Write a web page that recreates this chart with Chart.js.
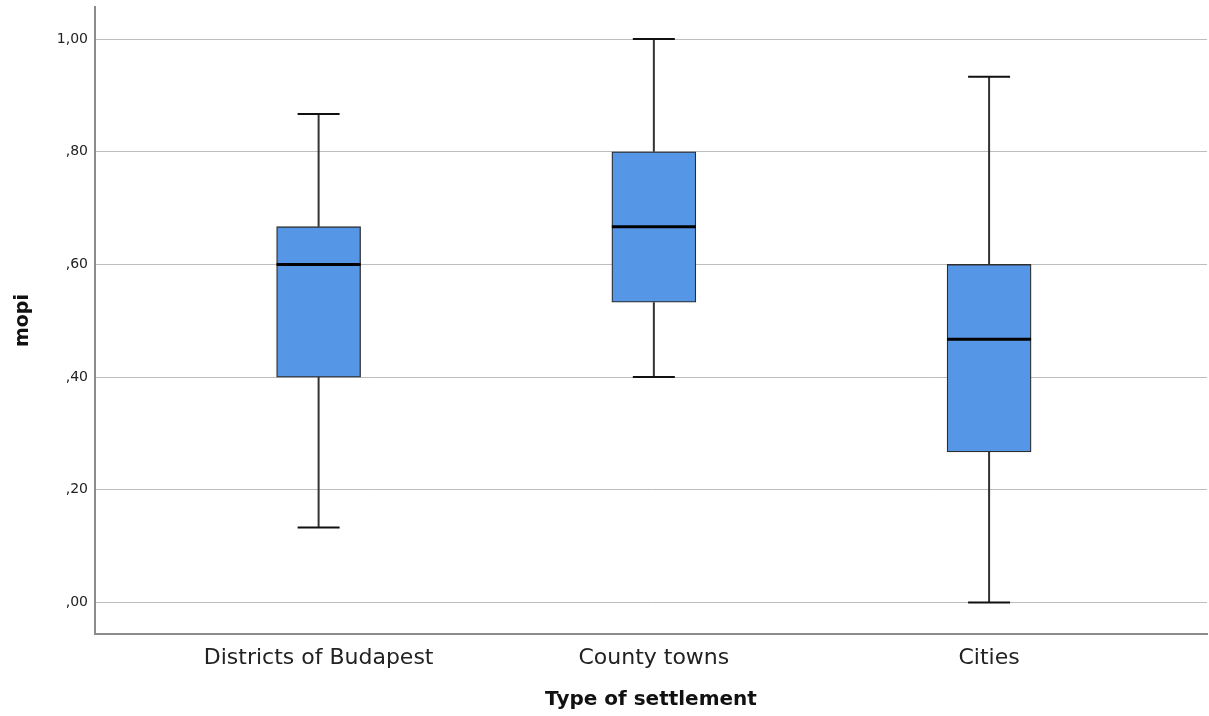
<!DOCTYPE html>
<html>
<head>
<meta charset="utf-8">
<script src="https://cdn.jsdelivr.net/npm/chart.js@4"></script>
<style>
    body { margin: 0; background: white; }
    #wrap { width: 1209px; height: 716px; }
</style>
</head>
<body>
<div id="wrap"><canvas id="boxChart"></canvas></div>
<script>
//data
const categories = ['Districts of Budapest', 'County towns', 'Cities'];
const positions = [1, 2, 3];
const mins    = [0.133, 0.40, 0.00];
const q1s     = [0.40, 0.533, 0.267];
const medians = [0.60, 0.667, 0.467];
const q3s     = [0.667, 0.80, 0.60];
const maxs    = [0.867, 1.00, 0.933];
const yTicks  = [0, 0.2, 0.4, 0.6, 0.8, 1.0];

const boxData = positions.map((p, i) => ({ x: p, y: [q1s[i], q3s[i]] }));

//comma decimal like SPSS: ,20  1,00
function spssLabel(v) {
    let s = v.toFixed(2).replace('.', ',');
    if (s.startsWith('0')) s = s.substring(1);
    return s;
}

/*
    whiskers + medians plugin
*/
const whiskerPlugin = {
    id: 'whiskers',
    beforeDatasetsDraw(chart) {
        const ctx = chart.ctx, x = chart.scales.x, y = chart.scales.y;
        ctx.save();
        ctx.strokeStyle = '#333333';
        ctx.lineWidth = 2;
        for (let i = 0; i < positions.length; i++) {
            const cx = x.getPixelForValue(positions[i]);
            ctx.beginPath();
            ctx.moveTo(cx, y.getPixelForValue(q3s[i]));
            ctx.lineTo(cx, y.getPixelForValue(maxs[i]));
            ctx.moveTo(cx, y.getPixelForValue(q1s[i]));
            ctx.lineTo(cx, y.getPixelForValue(mins[i]));
            ctx.stroke();
        }
        ctx.restore();
    },
    afterDatasetsDraw(chart) {
        const ctx = chart.ctx, x = chart.scales.x, y = chart.scales.y;
        const meta = chart.getDatasetMeta(0);
        ctx.save();
        for (let i = 0; i < positions.length; i++) {
            const cx = x.getPixelForValue(positions[i]);
            const half = meta.data[i].width / 2;
            //caps
            ctx.strokeStyle = '#111111';
            ctx.lineWidth = 2;
            ctx.beginPath();
            for (let v of [mins[i], maxs[i]]) {
                const py = y.getPixelForValue(v);
                ctx.moveTo(cx - half / 2, py);
                ctx.lineTo(cx + half / 2, py);
            }
            ctx.stroke();
            //median
            ctx.strokeStyle = '#000000';
            ctx.lineWidth = 3;
            ctx.beginPath();
            const my = y.getPixelForValue(medians[i]);
            ctx.moveTo(cx - half, my);
            ctx.lineTo(cx + half, my);
            ctx.stroke();
        }
        ctx.restore();
    }
};

const ctx_box = document.getElementById('boxChart').getContext('2d');
const boxChart = new Chart(ctx_box, {
    type: 'bar',
    data: {
        datasets: [{
            data: boxData,
            backgroundColor: '#5596e6',
            borderColor: '#2e2e2e',
            borderWidth: 1.3,
            borderSkipped: false,
            barThickness: 84,
        }]
    },
    options: {
        responsive: true,
        maintainAspectRatio: false,
        animation: false,
        layout: { padding: { top: 7, right: 2, left: 0, bottom: 4 } },
        plugins: {
            legend: { display: false },
            tooltip: { enabled: false },
        },
        scales: {
            x: {
                type: 'linear',
                offset: false,
                min: 0.333,
                max: 3.65,
                afterBuildTicks: (scale) => { scale.ticks = positions.map(v => ({ value: v })); },
                afterFit: (scale) => { scale.height = 78; },
                ticks: {
                    color: '#222',
                    font: { family: 'DejaVu Sans', size: 22 },
                    padding: 11,
                    callback: (v) => categories[positions.indexOf(v)] || '',
                },
                grid: { display: false, drawTicks: false, offset: false },
                border: { color: '#8c8c8c', width: 2 },
                title: {
                    display: true,
                    text: 'Type of settlement',
                    color: '#111',
                    font: { family: 'DejaVu Sans', size: 20, weight: 'bold' },
                    padding: { top: 10, bottom: 0 },
                },
            },
            y: {
                min: -0.056,
                max: 1.057,
                afterBuildTicks: (scale) => { scale.ticks = yTicks.map(v => ({ value: v })); },
                afterFit: (scale) => { scale.width = 95; scale.paddingTop = 0; },
                ticks: {
                    color: '#222',
                    font: { family: 'DejaVu Sans', size: 14 },
                    padding: 7,
                    callback: (v) => spssLabel(v),
                },
                grid: { color: '#bdbdbd', lineWidth: 1, drawTicks: false },
                border: { color: '#8c8c8c', width: 2 },
                title: {
                    display: true,
                    text: 'mopi',
                    color: '#111',
                    font: { family: 'DejaVu Sans', size: 19, weight: 'bold' },
                    padding: { top: 12, bottom: 0 },
                },
            },
        },
    },
    plugins: [whiskerPlugin],
});
</script>
</body>
</html>
